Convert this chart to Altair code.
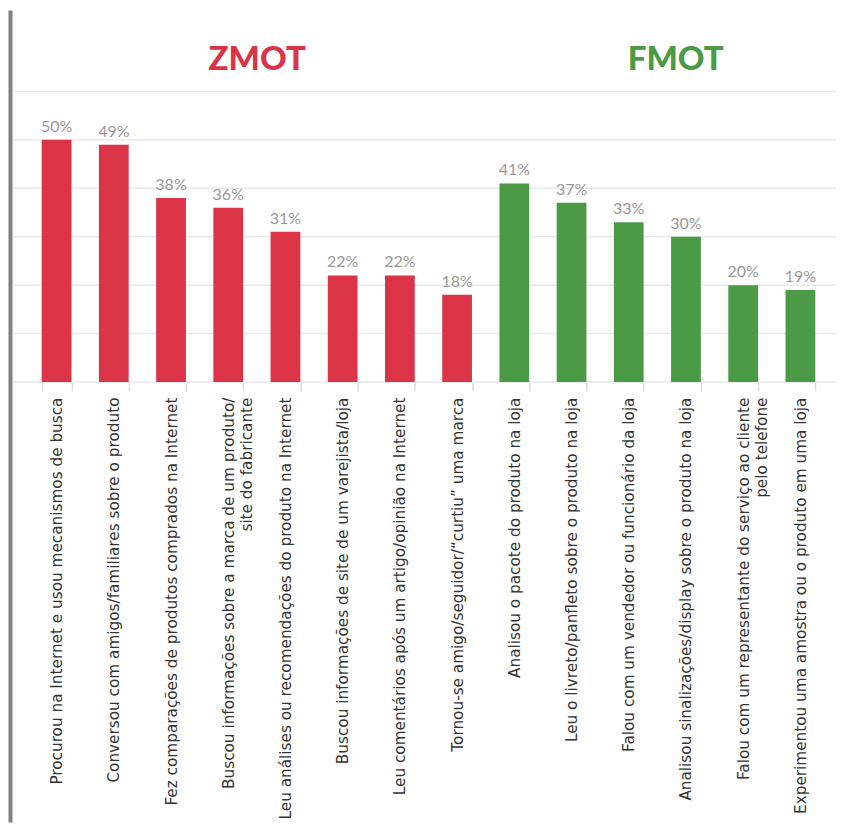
import altair as alt
import pandas as pd

categories = [
    "Procurou na Internet e usou mecanismos de busca",
    "Conversou com amigos/familiares sobre o produto",
    "Fez comparações de produtos comprados na Internet",
    "Buscou informações sobre a marca de um produto/\nsite do fabricante",
    "Leu análises ou recomendações do produto na Internet",
    "Buscou informações de site de um varejista/loja",
    "Leu comentários após um artigo/opinião na Internet",
    "Tornou-se amigo/seguidor/\u201ccurtiu\u201d uma marca",
    "Analisou o pacote do produto na loja",
    "Leu o livreto/panfleto sobre o produto na loja",
    "Falou com um vendedor ou funcionário da loja",
    "Analisou sinalizações/display sobre o produto na loja",
    "Falou com um representante do serviço ao cliente\npelo telefone",
    "Experimentou uma amostra ou o produto em uma loja",
]
values = [50, 49, 38, 36, 31, 22, 22, 18, 41, 37, 33, 30, 20, 19]
groups = ["ZMOT"] * 8 + ["FMOT"] * 6
group_names = ["ZMOT", "FMOT"]
group_colors = ["#DC3447", "#4B9A45"]
grid_values = [0, 10, 20, 30, 40, 50, 60]

df = pd.DataFrame({"cat": categories, "val": values, "grp": groups})
df["lbl"] = df["val"].astype(str) + "%"
grid_df = pd.DataFrame({"v": grid_values})
one = pd.DataFrame({"a": [0]})

W, H = 802, 291
yscale = alt.Scale(domain=[0, 60], nice=False)

grid = alt.Chart(grid_df).mark_rule(color="#e9e9e9", strokeWidth=1.5).encode(
    y=alt.Y("v:Q", scale=yscale, axis=None),
    x=alt.value(-14),
    x2=alt.value(809),
)

xenc = alt.X(
    "cat:N",
    sort=None,
    scale=alt.Scale(paddingInner=0.48, paddingOuter=0.24),
    axis=alt.Axis(
        title=None,
        domain=False,
        grid=False,
        ticks=True,
        tickBand="extent",
        tickSize=9,
        tickColor="#dddddd",
        tickWidth=1.5,
        labelAngle=270,
        labelAlign="right",
        labelBaseline="middle",
        labelPadding=6,
        labelLimit=600,
        labelFont="DejaVu Sans",
        labelFontSize=15.3,
        labelColor="#333333",
        labelLineHeight=18,
        labelExpr="split(datum.label, '\\n')",
    ),
)

bars = alt.Chart(df).mark_bar().encode(
    x=xenc,
    y=alt.Y("val:Q", scale=yscale, axis=None),
    color=alt.Color("grp:N", scale=alt.Scale(domain=group_names, range=group_colors), legend=None),
)

texts = alt.Chart(df).mark_text(
    dy=-8, baseline="alphabetic", font="Lato", fontSize=16, color="#999999"
).encode(
    x=alt.X("cat:N", sort=None),
    y=alt.Y("val:Q", scale=yscale),
    text="lbl:N",
)

left_bar = alt.Chart(one).mark_rule(color="#808080", strokeWidth=4).encode(
    x=alt.value(-17.5),
    y=alt.value(-81),
    y2=alt.value(732),
)

t1 = alt.Chart(pd.DataFrame({"t": [group_names[0]]})).mark_text(
    font="Lato", fontSize=33, fontWeight=900, color=group_colors[0], baseline="middle", align="center"
).encode(x=alt.value(229.5), y=alt.value(-31), text="t:N")

t2 = alt.Chart(pd.DataFrame({"t": [group_names[1]]})).mark_text(
    font="Lato", fontSize=33, fontWeight=900, color=group_colors[1], baseline="middle", align="center"
).encode(x=alt.value(648.5), y=alt.value(-31), text="t:N")

chart = alt.layer(grid, left_bar, bars, texts, t1, t2).properties(
    width=W, height=H, padding=0
).configure_view(stroke=None)

chart.save("out.html", embed_options={"renderer": "svg", "actions": False})
